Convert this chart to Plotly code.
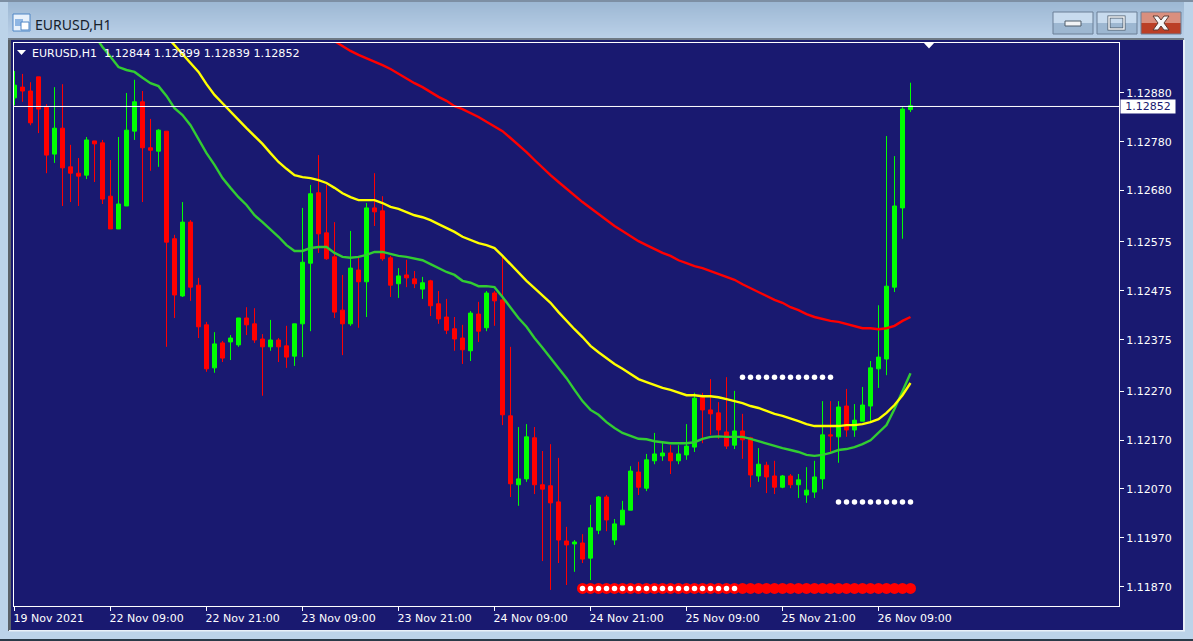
import plotly.graph_objects as go

# Prices are stored as points (1e-5) relative to BASE_PRICE
BASE_PRICE = 1.120016
POINT = 0.00001

open_pts = [868,890,882,911,849,753,806,727,714,710,780,776,667,600,647,800,860,766,759,800,
            580,463,614,485,404,316,367,369,363,418,406,375,359,373,361,340,406,530,674,592,
            543,434,406,516,492,643,637,541,488,506,498,477,494,447,420,396,377,351,426,398,
            469,455,218,77,89,173,77,75,42,-38,-44,-42,-73,-16,52,-36,-5,25,103,70,
            126,136,142,126,138,154,256,230,224,185,158,187,173,95,117,95,72,95,77,56,
            62,89,179,175,238,189,207,238,314,334,481,643,844]
high_pts = [923,917,900,911,855,890,896,772,745,788,780,782,741,788,878,905,882,825,804,800,
            588,655,618,500,410,389,371,383,418,440,438,385,414,377,402,406,643,690,751,690,
            614,506,596,545,653,714,667,545,520,537,514,502,496,473,457,420,404,432,451,473,
            473,547,359,195,201,195,146,160,132,-9,-36,-24,36,54,56,7,44,115,124,140,
            183,164,158,158,201,265,265,293,246,297,269,222,175,152,124,126,97,99,99,113,
            126,248,248,248,273,242,277,330,444,790,749,849,899]
low_pts = [853,860,812,796,714,735,647,655,647,702,696,651,600,600,647,782,655,719,727,359,
           418,461,453,377,308,306,328,332,359,383,367,259,351,328,316,320,338,391,551,537,
           418,342,402,398,420,606,535,461,459,481,479,457,422,406,385,351,324,330,369,391,
           402,199,52,34,83,58,-79,-138,-83,-128,-101,-83,-118,-24,-18,-46,-5,25,56,64,
           119,126,99,119,128,144,162,179,171,150,150,130,72,83,60,58,70,70,50,40,
           50,68,142,122,175,175,207,203,275,301,471,580,839]
close_pts = [894,882,817,845,751,806,725,714,708,782,774,661,600,651,802,860,766,761,802,573,
             465,614,481,400,314,365,336,377,418,404,373,359,373,359,338,406,532,672,590,539,
             430,406,520,492,643,635,539,485,504,500,488,490,443,416,393,375,353,428,391,469,
             453,220,79,89,175,77,68,40,-36,-46,-40,-75,-11,52,5,-3,25,105,72,128,
             140,142,126,140,156,254,230,222,189,156,187,169,97,119,93,72,95,77,87,66,
             93,179,177,236,189,209,240,316,338,483,647,845,852]

ma_green_pts = [996,972,952,931,925,921,909,898,892,872,847,833,812,782,755,731,704,684,665,649,628,
                614,600,584,567,555,555,561,563,563,551,543,541,543,547,553,553,549,545,543,539,
                536,528,520,512,506,494,490,483,483,481,
                461,440,418,400,377,357,336,316,295,271,248,230,220,205,193,183,177,171,170,166,
                164,162,162,162,164,
                171,175,176,175,175,175,171,166,162,156,152,148,144,138,136,138,142,148,150,154,
                160,168,183,199,232,269,305]
ma_yellow_pts = [994,976,958,939,921,896,874,857,839,823,806,790,774,755,737,723,710,706,704,700,
                 694,684,673,665,659,659,659,653,645,641,635,628,624,618,610,602,594,584,577,571,
                 567,561,
                 545,528,510,494,479,463,449,430,412,395,379,361,348,336,324,314,303,293,287,281,
                 275,271,265,260,260,
                 258,258,256,252,248,244,238,234,228,222,218,213,207,201,197,197,197,197,199,199,
                 201,205,211,224,240,260,285]
ma_red_pts = [984,974,964,956,949,943,935,927,917,907,898,890,880,870,862,851,845,837,829,819,
              810,800,786,772,757,741,725,710,696,682,669,655,643,631,618,606,596,586,575,567,
              559,551,545,536,530,524,520,514,508,502,496,487,479,471,463,455,449,440,434,426,
              420,416,412,410,406,402,397,397,395,397,402,412,420]

upper_dot_pts = [297] * 12   # bars 91-102
lower_dot_pts = [42] * 10    # bars 103-112
bottom_dot_pts = [-135] * 42 # bars 71-112
hollow_count = 20            # first bars of bottom row have a white centre

tick_bars = [0, 12, 24, 36, 48, 60, 72, 84, 96, 108]
tick_labels = ["19 Nov 2021", "22 Nov 09:00", "22 Nov 21:00", "23 Nov 09:00", "23 Nov 21:00",
               "24 Nov 09:00", "24 Nov 21:00", "25 Nov 09:00", "25 Nov 21:00", "26 Nov 09:00"]
price_ticks = [1.12880, 1.12780, 1.12680, 1.12575, 1.12475, 1.12375, 1.12270, 1.12170, 1.12070, 1.11970, 1.11870]
last_price = 1.12852
legend_name = "EURUSD,H1"
legend_ohlc = "1.12844 1.12899 1.12839 1.12852"
window_title = "EURUSD,H1"


def price(pts):
    return [round(BASE_PRICE + p * POINT, 6) for p in pts]


W, H = 1193, 641
L, R, T, B = 14, 74, 43, 35
NAVY = "#191970"
FONT = "DejaVu Sans"
PW, PH = W - L - R, H - T - B


def xp(px):
    return (px - L) / PW


def yp(py):
    return 1 - (py - T) / PH


def rect(x0, y0, x1, y1, fill, line=None, lw=0):
    return dict(type="rect", xref="paper", yref="paper", x0=xp(x0), x1=xp(x1), y0=yp(y0), y1=yp(y1),
                fillcolor=fill, line=dict(color=line or fill, width=lw), layer="below")


def path(pts, fill=None, line=None, lw=0, layer="above"):
    d = "M " + " L ".join(f"{xp(a)},{yp(b)}" for a, b in pts) + " Z"
    return dict(type="path", xref="paper", yref="paper", path=d, fillcolor=fill or "rgba(0,0,0,0)",
                line=dict(color=line or "rgba(0,0,0,0)", width=lw), layer=layer)


n = len(open_pts)
bars = list(range(n))
fig = go.Figure()
fig.add_trace(go.Candlestick(
    x=bars, open=price(open_pts), high=price(high_pts), low=price(low_pts), close=price(close_pts),
    increasing=dict(line=dict(color="#00ff00", width=1), fillcolor="#00ff00"),
    decreasing=dict(line=dict(color="#ff0000", width=1), fillcolor="#ff0000"),
    whiskerwidth=0, showlegend=False))

for vals, col in [(ma_red_pts, "#ff0000"), (ma_green_pts, "#32cd32"), (ma_yellow_pts, "#ffff00")]:
    fig.add_trace(go.Scatter(x=bars[n - len(vals):], y=price(vals), mode="lines",
                             line=dict(color=col, width=2.4), showlegend=False))

fig.add_trace(go.Scatter(x=bars[n - len(bottom_dot_pts):], y=price(bottom_dot_pts), mode="markers",
                         marker=dict(color="#ff0000", size=11), showlegend=False))
hollow_x = bars[n - len(bottom_dot_pts):][:hollow_count]
fig.add_trace(go.Scatter(x=hollow_x, y=price(bottom_dot_pts[:hollow_count]), mode="markers",
                         marker=dict(color="#ffffff", size=5.5), showlegend=False))
fig.add_trace(go.Scatter(x=bars[91:103], y=price(upper_dot_pts), mode="markers",
                         marker=dict(color="#ffffff", size=5.5), showlegend=False))
fig.add_trace(go.Scatter(x=bars[103:113], y=price(lower_dot_pts), mode="markers",
                         marker=dict(color="#ffffff", size=5.5), showlegend=False))

shapes = []
# window chrome: title band gradient, one band per pixel row
c0, c1 = (157, 184, 211), (186, 208, 232)
for row in range(2, 38):
    t = (row - 2) / 35
    col = "rgb(%d,%d,%d)" % tuple(round(a + (b - a) * t) for a, b in zip(c0, c1))
    shapes.append(rect(0, row, W, row + 1.2, col))
shapes.append(rect(0, 0, 8, H, "#bcd3e9"))
shapes.append(rect(1184, 2, W, H, "#bcd3e9"))
shapes.append(rect(0, 631, W, H, "#bcd3e9"))
shapes.append(rect(0, 639, W, H, "#2a3a48"))
shapes.append(rect(0, 0, W, 2, "#7d8fa3"))
shapes.append(rect(8, 38, 11, 631, "#5a6168"))
shapes.append(rect(8, 38, 1184, 40, "#6f7a85"))
shapes.append(rect(1183, 40, 1185, 631, "#e8f0f8"))
shapes.append(rect(9, 630, 1185, 631.5, "#e8f0f8"))

# icon
shapes.append(rect(13, 14, 30, 31, "#e8f1fb", "#4f86c6", 1))
shapes.append(rect(15, 19, 23, 26, "#8fb6e3"))
shapes.append(rect(21, 22, 29, 30, "#ffffff", "#4f86c6", 1))

# window buttons
for x0, x1, top, bottom in [(1053, 1093, "#c8dbee", "#9db7d1"), (1097, 1137, "#c8dbee", "#9db7d1"),
                            (1141, 1181, "#da8f7e", "#bb3f26")]:
    shapes.append(rect(x0, 12, x1, 23, top))
    shapes.append(rect(x0, 23, x1, 34, bottom))
    shapes.append(dict(type="rect", xref="paper", yref="paper", x0=xp(x0), x1=xp(x1), y0=yp(12), y1=yp(34),
                       line=dict(color="#6a7f96", width=1), fillcolor="rgba(0,0,0,0)", layer="below"))
shapes.append(rect(1065, 21, 1081, 26, "#f2f4f6", "#4e5c6a", 1))
shapes.append(rect(1109, 17, 1124, 29, "rgba(0,0,0,0)", "#4e5c6a", 3))
shapes.append(rect(1109, 17, 1124, 29, "rgba(0,0,0,0)", "#f2f4f6", 1.5))
shapes.append(path([(1153, 16), (1158, 16), (1161, 20), (1164, 16), (1169, 16), (1164, 23), (1169, 30),
                    (1164, 30), (1161, 26), (1158, 30), (1153, 30), (1158, 23)],
                   fill="#f4f6f8", line="#5c3a33", lw=1))

# chart furniture
shapes.append(dict(type="line", xref="paper", yref="y", x0=0, x1=1, y0=last_price, y1=last_price,
                   line=dict(color="#ffffff", width=1), layer="above"))
shapes.append(path([(17, 50), (26, 50), (21.5, 55)], fill="#ffffff"))
shapes.append(path([(923, 42), (935, 42), (929, 48.5)], fill="#ffffff"))

annotations = [
    dict(xref="paper", yref="paper", x=xp(30), y=yp(53.5), text=legend_name, showarrow=False, xanchor="left",
         yanchor="middle", font=dict(family=FONT, size=11, color="#ffffff")),
    dict(xref="paper", yref="paper", x=xp(102), y=yp(53.5), text=legend_ohlc, showarrow=False, xanchor="left",
         yanchor="middle", font=dict(family=FONT, size=11.2, color="#ffffff")),
    dict(xref="paper", yref="paper", x=xp(33), y=yp(24), text=window_title, showarrow=False, xanchor="left",
         yanchor="middle", font=dict(family="Noto Sans", size=14, color="#15202b")),
    dict(xref="paper", yref="y", x=xp(1148), y=last_price, text=f"{last_price:.5f}", showarrow=False,
         xanchor="center", yanchor="middle", bgcolor="#ffffff", borderpad=0, width=54, height=13,
         font=dict(family=FONT, size=11, color=NAVY)),
]

fig.update_layout(
    width=W, height=H, margin=dict(l=L, r=R, t=T, b=B, pad=0, autoexpand=False),
    paper_bgcolor=NAVY, plot_bgcolor=NAVY, showlegend=False, shapes=shapes, annotations=annotations,
    boxgap=0.5, boxgroupgap=0, hovermode=False, font=dict(family=FONT, size=11, color="#ffffff"),
    xaxis=dict(range=[(L - 14.5) / 8, (W - R - 14.5) / 8], rangeslider=dict(visible=False), tickmode="array",
               tickvals=tick_bars, ticktext=tick_labels, ticks="outside", ticklen=4, tickcolor="#ffffff",
               tickwidth=1, showgrid=False, zeroline=False, showline=True, linecolor="#ffffff", linewidth=1,
               mirror=True, ticklabelposition="outside right", ticklabelshift=-2, ticklabelstandoff=2,
               tickfont=dict(family=FONT, size=11, color="#ffffff")),
    yaxis=dict(side="right", range=[1.12 + (1069.7 - 2.0445 * (H - B)) * POINT, 1.12 + (1069.7 - 2.0445 * T) * POINT],
               tickmode="array", tickvals=price_ticks, ticktext=[f"{p:.5f}" for p in price_ticks],
               ticks="outside", ticklen=4, tickcolor="#ffffff", tickwidth=1, showgrid=False, zeroline=False,
               showline=True, linecolor="#ffffff", linewidth=1, mirror=True,
               tickfont=dict(family=FONT, size=11, color="#ffffff")),
)

fig.write_html("out.html", config=dict(displayModeBar=False),
               post_script="document.body.style.margin='0';document.documentElement.style.overflow='hidden';")
